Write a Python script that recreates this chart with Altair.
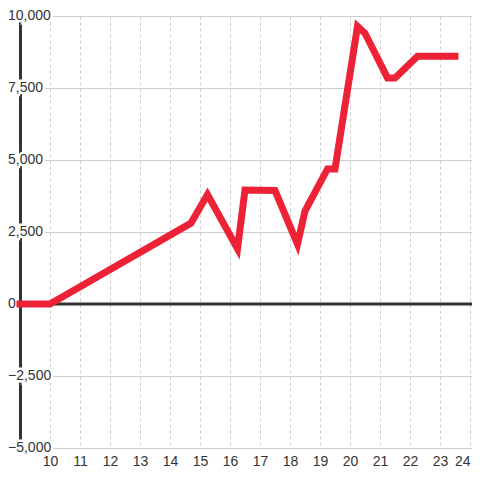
import altair as alt
import pandas as pd

# line series (x position, value)
xs = [9, 10, 14.7, 15.25, 16.25, 16.5, 17.5, 18.25, 18.5, 19.25, 19.5, 20.25, 20.5, 21.25, 21.5, 22.25, 23.5]
ys = [0, 0, 2810, 3800, 1920, 3960, 3940, 2080, 3230, 4690, 4690, 9640, 9400, 7850, 7850, 8600, 8600]

x_ticks = list(range(10, 25))
y_grid = [-5000 + 1250 * i for i in range(13)]
y_labels = [-5000, -2500, 0, 2500, 5000, 7500, 10000]
zero_line = [0]

FONT = "Liberation Sans"
RED = "#ee2237"
DARK = "#333333"
GRID = "#cccccc"

line_df = pd.DataFrame({"x": xs, "y": ys})
lab_df = pd.DataFrame({"v": y_labels})
zero_df = pd.DataFrame({"v": zero_line})

xscale = alt.Scale(domain=[9, 24.0667], nice=False, zero=False)
yscale = alt.Scale(domain=[-5000, 10000], nice=False, zero=False)

line = alt.Chart(line_df).mark_line(
    color=RED, strokeWidth=7, strokeCap="square"
).encode(
    x=alt.X("x:Q", scale=xscale, axis=alt.Axis(
        values=x_ticks, title=None, domain=False, ticks=False,
        grid=True, gridColor=GRID, gridDash=[3, 3], gridWidth=1,
        labelFont=FONT, labelFontSize=14, labelColor=DARK, labelPadding=6,
        labelFlush=5, zindex=0)),
    y=alt.Y("y:Q", scale=yscale, axis=alt.Axis(
        values=y_grid, title=None, labels=False, ticks=False,
        domain=True, domainColor=DARK, domainWidth=3,
        grid=True, gridColor=GRID, gridWidth=1, zindex=0)),
)


def label_layer(**mark_kw):
    return alt.Chart(lab_df).mark_text(
        align="left", baseline="middle", font=FONT, fontSize=14, **mark_kw
    ).encode(
        x=alt.value(-12),
        y=alt.Y("v:Q", scale=yscale),
        text=alt.Text("v:Q", format=","),
    )


halo = label_layer(fill="white", stroke="white", strokeWidth=5)
labels = label_layer(color=DARK)

zero = alt.Chart(zero_df).mark_rule(color=DARK, strokeWidth=3).encode(
    y=alt.Y("v:Q", scale=yscale)
)

chart = alt.layer(halo, labels, zero, line).properties(
    width=452, height=432,
    autosize=alt.AutoSizeParams(type="none"),
    padding={"left": 12, "top": 8, "right": 0, "bottom": 20},
).configure_view(stroke=None).configure(background="white")

chart.save("out.html", embed_options={"renderer": "svg", "actions": False})
